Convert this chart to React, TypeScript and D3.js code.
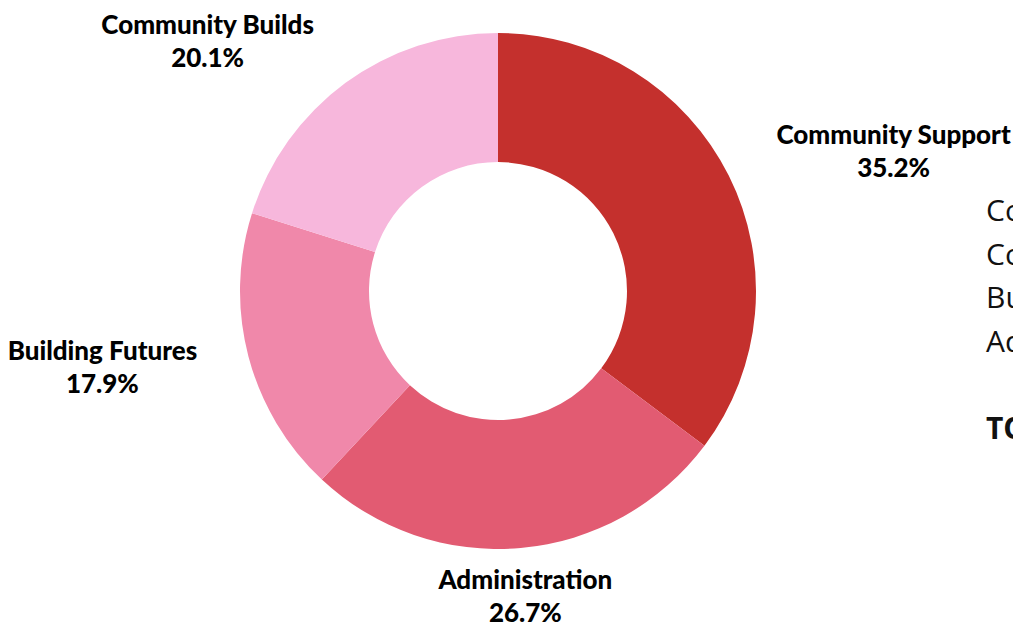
import React from "react";
import * as d3 from "d3";

const categories = ["Community Support", "Administration", "Building Futures", "Community Builds"];
const shares = [35.2, 26.7, 17.9, 20.1];
const colors = ["#C4302D", "#E25B72", "#F088AA", "#F7B7DC"];
const sideList = ["Community Support", "Community Builds", "Building Futures", "Administration", "", "TOTAL"];

const W = 1013;
const H = 627;
const cx = 498;
const cy = 291;
const outerR = 258;
const innerR = 129;
const labelRx = 311;
const labelRy = 308;
const labelFont = "900 26px Lato";

let ctx: CanvasRenderingContext2D | null = null;
function measure(text: string): number {
  if (!ctx && typeof document !== "undefined") {
    ctx = document.createElement("canvas").getContext("2d");
  }
  if (!ctx) return text.length * 14;
  ctx.font = labelFont;
  return ctx.measureText(text).width;
}

export default function App() {
  const pie = d3.pie<number>().sort(null).value((d) => d).startAngle(0).endAngle(2 * Math.PI);
  const arcs = pie(shares);
  const arc = d3.arc<d3.PieArcDatum<number>>().innerRadius(innerR).outerRadius(outerR);
  const fmt = d3.format(".1f");

  return (
    <div style={{ position: "fixed", left: 0, top: 0, width: W, height: H, overflow: "hidden", background: "#fff" }}>
      <svg width={W} height={H} style={{ display: "block" }}>
        <g transform={`translate(${cx},${cy})`}>
          {arcs.map((a, i) => (
            <path key={categories[i]} d={arc(a) || ""} fill={colors[i]} />
          ))}
        </g>
        {arcs.map((a, i) => {
          const mid = (a.startAngle + a.endAngle) / 2;
          const s = Math.sin(mid);
          const c = Math.cos(mid);
          const x0 = cx + labelRx * s;
          const y = cy - labelRy * c;
          const line1 = categories[i];
          const line2 = fmt(shares[i]) + "%";
          const half = Math.max(measure(line1), measure(line2)) / 2;
          const x = s > 0.3 ? x0 + half : s < -0.3 ? x0 - half : x0;
          return (
            <text
              key={"l" + i}
              textAnchor="middle"
              fontFamily="Lato, sans-serif"
              fontWeight={900}
              fontSize={26}
              fill="#000"
            >
              <tspan x={x} y={y - 9}>{line1}</tspan>
              <tspan x={x} y={y + 24}>{line2}</tspan>
            </text>
          );
        })}
        {sideList.map((t, i) => (
          <text
            key={"s" + i}
            x={986}
            y={221 + i * 43.5}
            fontFamily="'Open Sans', sans-serif"
            fontSize={30}
            fontWeight={t === "TOTAL" ? 700 : 400}
            fill="#111"
          >
            {t}
          </text>
        ))}
      </svg>
    </div>
  );
}
